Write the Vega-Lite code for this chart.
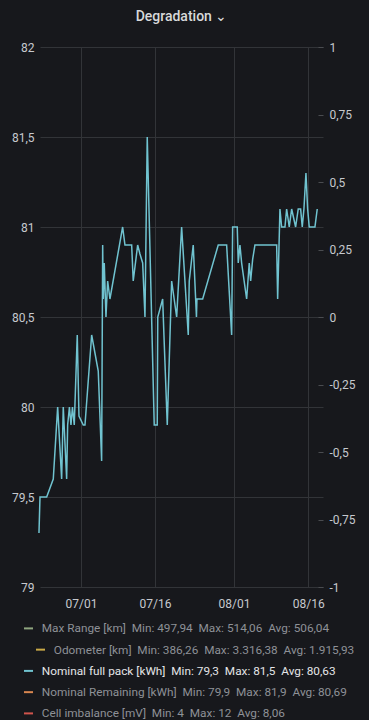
{
  "$schema": "https://vega.github.io/schema/vega-lite/v6.json",
  "width": 283,
  "height": 540,
  "autosize": "none",
  "padding": {"left": 40, "top": 47, "right": 46, "bottom": 133},
  "background": "#17181c",
  "config": {"view": {"stroke": null}, "font": "Roboto"},
  "title": {"text": "Degradation ⌄", "anchor": "middle", "frame": "group", "fontSize": 14, "fontWeight": 500, "color": "#d8d9da", "font": "Roboto", "offset": 17},
  "data": {"values": [
    {"t": "2021-06-22T12:00", "v": 79.3},
    {"t": "2021-06-22T17:00", "v": 79.5},
    {"t": "2021-06-24T01:20", "v": 79.5},
    {"t": "2021-06-25T09:30", "v": 79.6},
    {"t": "2021-06-26T06:50", "v": 80.0},
    {"t": "2021-06-27T02:10", "v": 79.6},
    {"t": "2021-06-27T10:00", "v": 80.0},
    {"t": "2021-06-28T02:30", "v": 79.6},
    {"t": "2021-06-28T07:20", "v": 79.9},
    {"t": "2021-06-28T16:00", "v": 80.0},
    {"t": "2021-06-28T23:30", "v": 79.9},
    {"t": "2021-06-29T06:40", "v": 80.0},
    {"t": "2021-06-29T15:30", "v": 79.9},
    {"t": "2021-06-30T06:00", "v": 80.4},
    {"t": "2021-06-30T14:20", "v": 79.95},
    {"t": "2021-07-01T11:10", "v": 79.9},
    {"t": "2021-07-01T19:30", "v": 79.9},
    {"t": "2021-07-03T04:00", "v": 80.4},
    {"t": "2021-07-04T12:00", "v": 80.2},
    {"t": "2021-07-05T04:30", "v": 79.7},
    {"t": "2021-07-05T09:30", "v": 80.9},
    {"t": "2021-07-05T12:20", "v": 80.6},
    {"t": "2021-07-05T17:10", "v": 80.8},
    {"t": "2021-07-06T01:30", "v": 80.5},
    {"t": "2021-07-06T09:40", "v": 80.7},
    {"t": "2021-07-06T20:50", "v": 80.6},
    {"t": "2021-07-09T10:30", "v": 81.0},
    {"t": "2021-07-09T21:50", "v": 80.9},
    {"t": "2021-07-11T06:20", "v": 80.9},
    {"t": "2021-07-11T14:00", "v": 80.7},
    {"t": "2021-07-12T11:30", "v": 80.9},
    {"t": "2021-07-12T22:40", "v": 80.85},
    {"t": "2021-07-13T11:50", "v": 80.8},
    {"t": "2021-07-13T23:00", "v": 80.5},
    {"t": "2021-07-14T10:00", "v": 81.5},
    {"t": "2021-07-15T20:00", "v": 79.9},
    {"t": "2021-07-16T10:40", "v": 79.9},
    {"t": "2021-07-16T13:10", "v": 80.5},
    {"t": "2021-07-17T13:00", "v": 80.6},
    {"t": "2021-07-17T19:10", "v": 80.4},
    {"t": "2021-07-18T11:20", "v": 79.9},
    {"t": "2021-07-19T08:40", "v": 80.7},
    {"t": "2021-07-20T09:00", "v": 80.5},
    {"t": "2021-07-21T09:10", "v": 81.0},
    {"t": "2021-07-22T17:20", "v": 80.4},
    {"t": "2021-07-22T22:10", "v": 80.7},
    {"t": "2021-07-23T17:30", "v": 80.9},
    {"t": "2021-07-24T09:10", "v": 80.5},
    {"t": "2021-07-24T11:30", "v": 80.6},
    {"t": "2021-07-25T15:20", "v": 80.6},
    {"t": "2021-07-28T19:00", "v": 80.9},
    {"t": "2021-07-30T11:50", "v": 80.9},
    {"t": "2021-07-31T12:10", "v": 80.4},
    {"t": "2021-07-31T17:00", "v": 81.0},
    {"t": "2021-08-01T15:20", "v": 81.0},
    {"t": "2021-08-01T20:10", "v": 80.8},
    {"t": "2021-08-02T04:30", "v": 80.9},
    {"t": "2021-08-02T12:40", "v": 80.8},
    {"t": "2021-08-03T13:00", "v": 80.6},
    {"t": "2021-08-04T01:40", "v": 80.8},
    {"t": "2021-08-04T08:30", "v": 80.7},
    {"t": "2021-08-04T18:10", "v": 80.82},
    {"t": "2021-08-05T05:20", "v": 80.9},
    {"t": "2021-08-09T14:50", "v": 80.9},
    {"t": "2021-08-09T19:40", "v": 80.6},
    {"t": "2021-08-10T06:50", "v": 81.1},
    {"t": "2021-08-10T15:00", "v": 81.0},
    {"t": "2021-08-11T07:10", "v": 81.0},
    {"t": "2021-08-11T15:20", "v": 81.1},
    {"t": "2021-08-12T04:00", "v": 81.0},
    {"t": "2021-08-12T15:40", "v": 81.1},
    {"t": "2021-08-13T11:00", "v": 81.0},
    {"t": "2021-08-13T23:40", "v": 81.1},
    {"t": "2021-08-14T11:20", "v": 81.1},
    {"t": "2021-08-14T19:10", "v": 81.0},
    {"t": "2021-08-15T03:20", "v": 81.1},
    {"t": "2021-08-15T13:10", "v": 81.3},
    {"t": "2021-08-15T21:20", "v": 81.1},
    {"t": "2021-08-16T05:10", "v": 81.0},
    {"t": "2021-08-17T08:50", "v": 81.0},
    {"t": "2021-08-17T20:00", "v": 81.1}
  ]},
  "layer": [
    {
      "mark": {"type": "line", "strokeWidth": 1.5, "interpolate": "linear"},
      "encoding": {
        "x": {
          "field": "t", "type": "temporal",
          "scale": {"domain": [{"year": 2021, "month": 6, "date": 22, "hours": 17}, {"year": 2021, "month": 8, "date": 19, "hours": 0}]},
          "axis": {
            "title": null,
            "values": [{"year": 2021, "month": 7, "date": 1}, {"year": 2021, "month": 7, "date": 16}, {"year": 2021, "month": 8, "date": 1}, {"year": 2021, "month": 8, "date": 16}],
            "format": "%m/%d",
            "grid": true, "gridColor": "#323438", "gridWidth": 1,
            "ticks": false, "domain": false,
            "labelColor": "#c6c9ce", "labelFont": "Roboto", "labelFontSize": 12, "labelPadding": 11
          }
        },
        "y": {
          "field": "v", "type": "quantitative",
          "scale": {"domain": [79, 82], "nice": false, "zero": false},
          "axis": {
            "title": null,
            "values": [79, 79.5, 80, 80.5, 81, 81.5, 82],
            "format": ".1~f",
            "labelExpr": "replace(datum.label, '.', ',')",
            "grid": true, "gridColor": "#323438", "gridWidth": 1,
            "ticks": false, "domain": false,
            "labelColor": "#c6c9ce", "labelFont": "Roboto", "labelFontSize": 12, "labelPadding": 6
          }
        },
        "color": {
          "datum": "Nominal full pack [kWh]\u00a0 Min: 79,3\u00a0 Max: 81,5\u00a0 Avg: 80,63",
          "type": "nominal",
          "scale": {
            "domain": [
              "Max Range [km]\u00a0 Min: 497,94\u00a0 Max: 514,06\u00a0 Avg: 506,04",
              "Odometer [km]\u00a0 Min: 386,26\u00a0 Max: 3.316,38\u00a0 Avg: 1.915,93",
              "Nominal full pack [kWh]\u00a0 Min: 79,3\u00a0 Max: 81,5\u00a0 Avg: 80,63",
              "Nominal Remaining [kWh]\u00a0 Min: 79,9\u00a0 Max: 81,9\u00a0 Avg: 80,69",
              "Cell imbalance [mV]\u00a0 Min: 4\u00a0 Max: 12\u00a0 Avg: 8,06"
            ],
            "range": ["#8fa57f", "#c9a947", "#70c3d0", "#d88650", "#d0544c"]
          },
          "legend": {
            "title": null,
            "orient": "none",
            "legendX": -17,
            "legendY": 575.5,
            "direction": "vertical",
            "symbolType": "stroke",
            "symbolSize": 81,
            "symbolStrokeWidth": 2,
            "labelFont": "Roboto",
            "labelFontSize": 11.8,
            "labelColor": "#8e9197",
            "labelLimit": 600,
            "labelOffset": 7,
            "rowPadding": 8.25,
            "encoding": {
              "labels": {
                "fill": {"condition": {"test": "indexof(datum.label, 'Nominal full') === 0", "value": "#e4e5e7"}, "value": "#8e9197"},
                "dx": {"condition": {"test": "indexof(datum.label, 'Odometer') === 0", "value": 12}, "value": 0}
              },
              "symbols": {
                "x": {"condition": {"test": "indexof(datum.label, 'Odometer') === 0", "value": 17.5}, "value": 5.5}
              }
            }
          }
        }
      }
    },
    {
      "mark": {"type": "rule", "opacity": 0},
      "encoding": {
        "y": {
          "datum": 0, "type": "quantitative",
          "scale": {"domain": [-1, 1], "nice": false},
          "axis": {
            "orient": "right",
            "title": null,
            "values": [-1, -0.75, -0.5, -0.25, 0, 0.25, 0.5, 0.75, 1],
            "format": ".2~f",
            "labelExpr": "replace(replace(datum.label, '.', ','), '\u2212', '-')",
            "grid": false,
            "ticks": true, "tickSize": -5, "tickColor": "#4a4c50",
            "domain": false,
            "labelColor": "#c6c9ce", "labelFont": "Roboto", "labelFontSize": 12, "labelPadding": 11
          }
        }
      }
    }
  ],
  "resolve": {"scale": {"y": "independent"}}
}
